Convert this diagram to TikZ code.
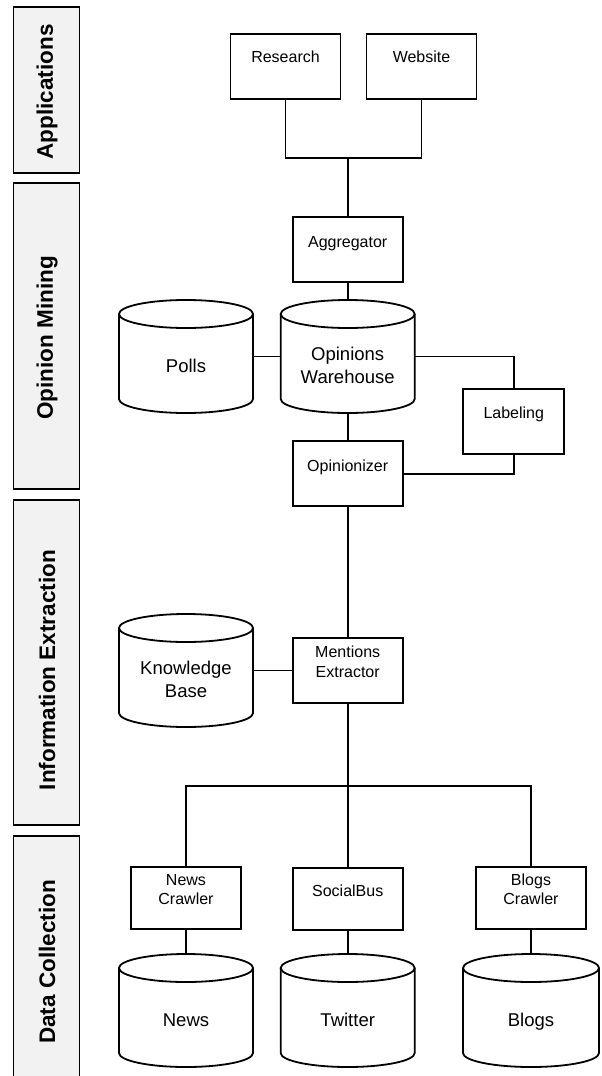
\documentclass[tikz,border=0pt]{standalone}
\usepackage{fontspec}
\setmainfont{Liberation Sans}
\definecolor{sidefill}{HTML}{F2F2F2}
\newcommand\dbcyl[5]{%
  \node[cylarea, minimum width=#4pt] (#1) at (#2,-#3-56.5) {};
  \draw[wire, fill=white] (#2-#4/2,-#3-14) -- (#2-#4/2,-#3-99)
     arc[start angle=180, end angle=360, x radius=#4/2, y radius=14]
     -- (#2+#4/2,-#3-14);
  \draw[wire, fill=white] (#2,-#3-14) ellipse[x radius=#4/2, y radius=14];
  \node[cyltxt] (#1t) at (#2,-#3-67.5) {#5};}
\begin{document}
\begin{tikzpicture}[x=1pt,y=1pt,
  wire/.style={line width=1.8pt, line join=miter},
  sidebox/.style={draw, fill=sidefill, line width=1.6pt, minimum width=66pt, inner sep=0pt},
  sidetxt/.style={rotate=90, font=\fontsize{22.5}{27}\selectfont\bfseries, inner sep=0pt},
  procbox/.style={draw, fill=white, line width=1.8pt, minimum width=110pt, minimum height=65pt, inner sep=0pt},
  boxtxt/.style={font=\fontsize{16}{19.5}\selectfont, align=center, inner sep=0pt},
  cylarea/.style={minimum height=113pt, inner sep=0pt},
  cyltxt/.style={font=\fontsize{18.5}{23}\selectfont, align=center, inner sep=0pt}]
\useasboundingbox (0,0) rectangle (602,-1076);
\fill[white] (0,0) rectangle (602,-1076);

% sidebar
\node[sidebox, minimum height=166pt] (sapp) at (46.5,-90) {};
\node[sidetxt] (tapp) at (47,-92) {Applications};
\node[sidebox, minimum height=306pt] (sopm) at (46.5,-336) {};
\node[sidetxt] (topm) at (47,-338) {Opinion Mining};
\node[sidebox, minimum height=325pt] (sinf) at (46.5,-662.5) {};
\node[sidetxt] (tinf) at (47,-670) {Information Extraction};
\node[sidebox, minimum height=256pt] (sdat) at (46.5,-964) {};
\node[sidetxt] (tdat) at (47,-962) {Data Collection};

% boxes
\node[procbox] (res) at (285.5,-66.3) {};
\node[boxtxt] (rest) at ([yshift=-26pt]res.north) {Research\strut};
\node[procbox] (web) at (421.5,-66.3) {};
\node[boxtxt] (webt) at ([yshift=-26pt]web.north) {Website\strut};
\node[procbox] (agg) at (347.7,-249.5) {};
\node[boxtxt] (aggt) at ([yshift=-27pt]agg.north) {Aggregator\strut};
\node[procbox, minimum width=101pt] (lab) at (513.8,-421.7) {};
\node[boxtxt] (labt) at ([yshift=-26.5pt]lab.north) {Labeling\strut};
\node[procbox] (opz) at (347.7,-473.8) {};
\node[boxtxt] (opzt) at ([yshift=-27.5pt]opz.north) {Opinionizer\strut};
\node[procbox] (men) at (347.7,-670.5) {};
\node[boxtxt] (ment) at ([yshift=-26.5pt]men.north) {Mentions\strut\\Extractor\strut};
\node[procbox, minimum height=62pt] (nc) at (186,-898) {};
\node[boxtxt] (nct) at ([yshift=-25pt]nc.north) {News\strut\\Crawler\strut};
\node[procbox, minimum height=62pt] (soc) at (347.7,-899) {};
\node[boxtxt] (soct) at ([yshift=-25pt]soc.north) {SocialBus\strut};
\node[procbox, minimum height=62pt] (bc) at (531,-898) {};
\node[boxtxt] (bct) at ([yshift=-25pt]bc.north) {Blogs\strut\\Crawler\strut};

% cylinders
\dbcyl{polls}{186}{300}{134}{Polls\strut}
\dbcyl{ow}{347.7}{300}{134}{Opinions\strut\\Warehouse\strut}
\dbcyl{kb}{186}{614}{134}{Knowledge\strut\\Base\strut}
\dbcyl{news}{186}{954}{134}{News\strut}
\dbcyl{tw}{347.7}{954}{134}{Twitter\strut}
\dbcyl{blogs}{531}{954}{136}{Blogs\strut}

% connectors
\coordinate (topj) at (347.7,-158.3);
\coordinate (botj) at (347.7,-785.7);
\draw[wire] (res.south) |- (topj);
\draw[wire] (web.south) |- (topj);
\draw[wire] (topj) -- (agg.north);
\draw[wire] (agg.south) -- (ow.north);
\draw[wire] (polls.east) -- (ow.west);
\draw[wire] (ow.east) -| (lab.north);
\draw[wire] (ow.south) -- (opz.north);
\draw[wire] (lab.south) |- (opz.east);
\draw[wire] (opz.south) -- (men.north);
\draw[wire] (kb.east) -- (men.west);
\draw[wire] (men.south) -- (botj);
\draw[wire] (botj) -- (soc.north);
\draw[wire] (nc.north) |- (botj);
\draw[wire] (bc.north) |- (botj);
\draw[wire] (nc.south) -- (news.north);
\draw[wire] (soc.south) -- (tw.north);
\draw[wire] (bc.south) -- (blogs.north);
\end{tikzpicture}
\end{document}
